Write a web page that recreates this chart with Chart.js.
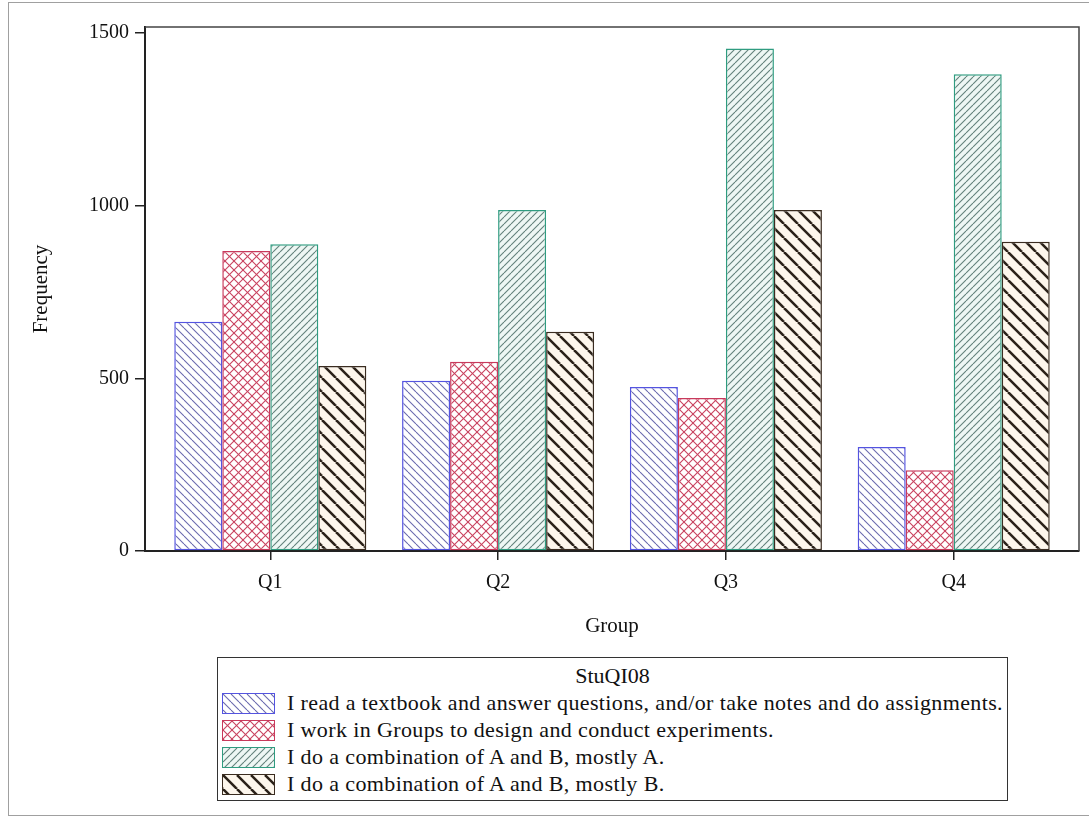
<!DOCTYPE html>
<html>
<head>
<meta charset="utf-8">
<script src="https://cdn.jsdelivr.net/npm/chart.js@4.4.1/dist/chart.umd.min.js"></script>
<style>
  body { margin: 0; background: #fff; font-family: "Liberation Serif", "Times New Roman", serif; }
  #wrap { position: relative; width: 1089px; height: 818px; overflow: hidden; background: #fff; }
  #outer { position: absolute; left: 8px; top: 2px; width: 1120px; height: 814px; border: 1px solid #a0a0a0; box-sizing: border-box; }
  #chart { position: absolute; left: 0; top: 0; }
  #legend { position: absolute; left: 217px; top: 657px; width: 791px; height: 144px; border: 1.5px solid #333; box-sizing: border-box; background: #fff; }
  #legend .title { text-align: center; font-size: 22px; line-height: 26px; margin-top: 5px; color: #111; }
  #legend .row { position: relative; height: 27px; }
  #legend .row canvas { position: absolute; left: 4px; top: 4px; border: 1px solid #888; }
  #legend .row span { position: absolute; left: 69px; top: 1px; font-size: 22px; letter-spacing: 0.38px; line-height: 26px; color: #111; white-space: nowrap; }
</style>
</head>
<body>
<div id="wrap">
  <div id="outer"></div>
  <canvas id="chart" width="1089" height="818"></canvas>
  <div id="legend"></div>
</div>
<script>
// categories and values
const groups = ["Q1", "Q2", "Q3", "Q4"];
const seriesNames = [
  "I read a textbook and answer questions, and/or take notes and do assignments.",
  "I work in Groups to design and conduct experiments.",
  "I do a combination of A and B, mostly A.",
  "I do a combination of A and B, mostly B."
];
const readTextbook = [664, 493, 475, 301];
const workInGroups = [869, 548, 443, 234];
const mostlyA = [889, 988, 1456, 1381];
const mostlyB = [536, 635, 988, 896];
const yTicks = [0, 500, 1000, 1500];

// hatch patterns, one per series
function makeHatch(size, bg, color, lw, dirs) {
  const c = document.createElement("canvas");
  c.width = size;
  c.height = size;
  const g = c.getContext("2d");
  g.fillStyle = bg;
  g.fillRect(0, 0, size, size);
  g.strokeStyle = color;
  g.lineWidth = lw;
  dirs.forEach((d) => {
    for (let k = -1; k <= 1; k++) {
      g.beginPath();
      if (d === "back") {
        g.moveTo(k * size, 0);
        g.lineTo(k * size + size, size);
      } else {
        g.moveTo(k * size, size);
        g.lineTo(k * size + size, 0);
      }
      g.stroke();
    }
  });
  return g.createPattern(c, "repeat");
}

const styles = [
  { border: "#5454e0", fill: makeHatch(8, "#ffffff", "#6a6aae", 1.1, ["back"]) },
  { border: "#c83a5c", fill: makeHatch(9, "#ffffff", "#c8405e", 1.1, ["back", "fwd"]) },
  { border: "#2f9c80", fill: makeHatch(7, "#eef7f4", "#62807a", 1.1, ["fwd"]) },
  { border: "#3a2c20", fill: makeHatch(14, "#fdf6ec", "#2a2018", 2.5, ["back"]) }
];

const seriesValues = [readTextbook, workInGroups, mostlyA, mostlyB];

const datasets = seriesValues.map((vals, s) => ({
  label: seriesNames[s],
  data: vals.map((v, i) => ({ x: i + 1, y: v })),
  backgroundColor: styles[s].fill,
  borderColor: styles[s].border,
  borderWidth: 1.5,
  borderSkipped: false,
  categoryPercentage: 0.843,
  barPercentage: 1
}));

const serif = "'Liberation Serif', 'Times New Roman', serif";

// frame around the plot area
const framePlugin = {
  id: "frame",
  afterDraw(chart) {
    const a = chart.chartArea;
    const ctx = chart.ctx;
    ctx.save();
    ctx.strokeStyle = "#444";
    ctx.lineWidth = 1.5;
    ctx.beginPath();
    ctx.moveTo(a.left, a.top);
    ctx.lineTo(a.right, a.top);
    ctx.lineTo(a.right, a.bottom);
    ctx.stroke();
    ctx.restore();
  }
};

new Chart(document.getElementById("chart"), {
  type: "bar",
  data: { datasets: datasets },
  plugins: [framePlugin],
  options: {
    responsive: false,
    animation: false,
    layout: { padding: { top: 27, right: 10, left: 0, bottom: 0 } },
    plugins: {
      legend: { display: false },
      tooltip: { enabled: false }
    },
    scales: {
      x: {
        type: "linear",
        offset: false,
        min: 0.45,
        max: 4.55,
        afterBuildTicks: (scale) => {
          scale.ticks = groups.map((g, i) => ({ value: i + 1 }));
        },
        afterFit: (scale) => {
          scale.height = 267;
        },
        ticks: {
          color: "#111",
          font: { family: serif, size: 20 },
          padding: 11,
          maxRotation: 0,
          callback: (v) => groups[Math.round(v) - 1]
        },
        grid: { display: true, offset: false, drawOnChartArea: false, drawTicks: true, tickLength: 9, color: "#222", lineWidth: 1.5 },
        border: { display: true, color: "#222", width: 2 },
        title: {
          display: true,
          text: "Group",
          color: "#111",
          font: { family: serif, size: 21 },
          padding: { top: 0, bottom: 179 }
        }
      },
      y: {
        min: 0,
        max: 1518,
        afterBuildTicks: (scale) => {
          scale.ticks = yTicks.map((v) => ({ value: v }));
        },
        afterFit: (scale) => {
          scale.width = 145;
        },
        ticks: {
          color: "#111",
          font: { family: serif, size: 20 },
          padding: 6,
          callback: (v) => String(v)
        },
        grid: { display: true, drawOnChartArea: false, drawTicks: true, tickLength: 10, color: "#222", lineWidth: 1.5 },
        border: { display: true, color: "#222", width: 2 },
        title: {
          display: true,
          text: "Frequency",
          color: "#111",
          font: { family: serif, size: 21 },
          padding: { top: 29, bottom: 0 }
        }
      }
    }
  }
});

// legend box built from the same series names and patterns
const legendBox = document.getElementById("legend");
const t = document.createElement("div");
t.className = "title";
t.textContent = "StuQI08";
legendBox.appendChild(t);
seriesNames.forEach((name, s) => {
  const row = document.createElement("div");
  row.className = "row";
  const sw = document.createElement("canvas");
  sw.width = 51;
  sw.height = 19;
  sw.style.borderColor = styles[s].border;
  const g = sw.getContext("2d");
  g.fillStyle = styles[s].fill;
  g.fillRect(0, 0, sw.width, sw.height);
  row.appendChild(sw);
  const label = document.createElement("span");
  label.textContent = name;
  row.appendChild(label);
  legendBox.appendChild(row);
});
</script>
</body>
</html>
